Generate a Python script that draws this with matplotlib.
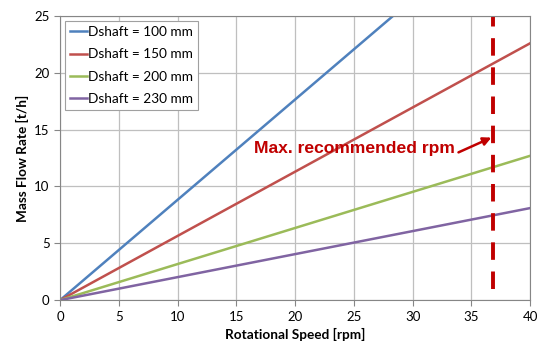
import matplotlib
matplotlib.use("Agg")
import matplotlib.pyplot as plt

# rotational speed [rpm] and mass flow rate [t/h] per shaft diameter
speed = [0, 40]
labels = ["Dshaft = 100 mm", "Dshaft = 150 mm", "Dshaft = 200 mm", "Dshaft = 230 mm"]
flow_100 = [0, 35.3]
flow_150 = [0, 22.6]
flow_200 = [0, 12.7]
flow_230 = [0, 8.1]
max_rpm = 36.8
max_rpm_span = [1.0, 25]

xticks = list(range(0, 41, 5))
yticks = list(range(0, 26, 5))

COLORS = ["#4F81BD", "#C0504D", "#9BBB59", "#8064A2"]
RED = "#C00000"
GRID = "#BFBFBF"

plt.rcParams["font.family"] = ["Lato", "DejaVu Sans"]

fig = plt.figure(figsize=(5.41, 3.47), dpi=100)
ax = fig.add_axes([0.111, 0.135, 0.869, 0.819])

for ys, lab, c in zip([flow_100, flow_150, flow_200, flow_230], labels, COLORS):
    ax.plot(speed, ys, color=c, lw=1.8, label=lab)

ax.plot([max_rpm, max_rpm], max_rpm_span, color=RED, lw=2.8, ls=(0, (4.5, 3)))

ax.text(33.6, 13.3, "Max. recommended rpm", ha="right", va="center",
        fontsize=12.6, fontweight="bold", color=RED, family="Liberation Sans")
ax.annotate("", xy=(36.7, 14.3), xytext=(33.9, 13.0),
            arrowprops=dict(arrowstyle="-|>", color=RED, lw=1.8,
                            mutation_scale=12, shrinkA=0, shrinkB=0))

ax.set_xlim(0, 40)
ax.set_ylim(0, 25)
ax.set_xticks(xticks)
ax.set_yticks(yticks)
ax.grid(True, color=GRID, lw=0.9)
ax.set_axisbelow(True)
for s in ax.spines.values():
    s.set_color("#868686")
ax.tick_params(labelsize=9.5, colors="#868686", labelcolor="black", length=4)

ax.set_xlabel("Rotational Speed [rpm]", fontsize=9.8, fontweight="bold")
ax.set_ylabel("Mass Flow Rate [t/h]", fontsize=9.8, fontweight="bold")

leg = ax.legend(loc="upper left", fontsize=9.8, handlelength=1.2, handletextpad=0.1,
                borderaxespad=0.35, fancybox=False, framealpha=1, labelspacing=0.75)
leg.get_frame().set_edgecolor("#A0A0A0")
leg.get_frame().set_linewidth(0.8)

fig.savefig("out.png", dpi=100)
